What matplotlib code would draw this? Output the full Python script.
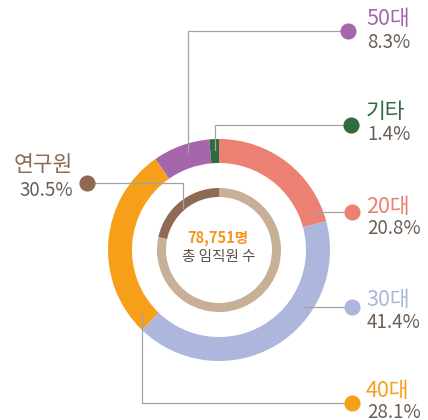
import matplotlib.pyplot as plt

plt.rcParams['font.family'] = ['Noto Sans CJK KR', 'DejaVu Sans']

# 연령대별 임직원 구성 (바깥 링, 12시 방향부터 시계방향)
age_labels = ['20대', '30대', '40대', '50대', '기타']
age_pcts = [20.8, 41.4, 28.1, 8.3, 1.4]
age_colors = ['#EC8072', '#ADB6DC', '#F6A01A', '#A666AC', '#2E6B3E']

# 연구원 비중 (안쪽 링) - 그림상 호 길이로 읽은 값
research_label = '연구원'
research_text = '30.5%'
inner_arc = [21.7, 78.3]
inner_colors = ['#8E6A55', '#C8AF98']

total_text = '78,751명'
total_caption = '총 임직원 수'

W, H = 428, 420
CX, CY = 219, 250

fig = plt.figure(figsize=(W / 100, H / 100), dpi=100)
ax = fig.add_axes([0, 0, 1, 1])


def py(y):
    # 픽셀 좌표(위에서 아래) -> 데이터 좌표
    return H - y


ax.pie(age_pcts, colors=age_colors, startangle=90, counterclock=False,
       radius=111, center=(CX, py(CY)),
       wedgeprops=dict(width=24, linewidth=0))
ax.pie(inner_arc, colors=inner_colors, startangle=90, counterclock=True,
       radius=62, center=(CX, py(CY)),
       wedgeprops=dict(width=9, linewidth=0))

ax.set_xlim(0, W)
ax.set_ylim(0, H)
ax.set_aspect('auto')
ax.axis('off')

# 가운데 텍스트
ax.text(CX - 1, py(238), total_text, color='#F7941D', fontsize=10.5,
        fontweight='bold', ha='center', va='center')
ax.text(CX, py(257), total_caption, color='#5A5048', fontsize=10.5,
        ha='center', va='center')

line_kw = dict(color='#A3A3A3', linewidth=0.9, zorder=1)
gray_txt = '#6B5E55'

# 지시선: (라벨, 퍼센트, 색, 선 좌표, 점 위치, 라벨 y, 퍼센트 y)
leaders = [
    ('50대', '8.3%', age_colors[3], [(188, 152), (188, 31), (348, 31)], (348, 31), 19, 43),
    ('기타', '1.4%', age_colors[4], [(215, 150), (215, 125), (351, 125)], (351, 125), 112, 135),
    ('20대', '20.8%', age_colors[0], [(312, 212), (352, 212)], (352, 212), 207, 229),
    ('30대', '41.4%', age_colors[1], [(303, 307), (352, 307)], (352, 307), 300, 322),
    ('40대', '28.1%', age_colors[2], [(142, 313), (142, 403), (352, 403)], (352, 403), 391, 412),
]

for lab, pct, col, pts, dot, ly, pyy in leaders:
    xs = [p[0] for p in pts]
    ys = [py(p[1]) for p in pts]
    ax.plot(xs, ys, **line_kw)
    ax.scatter([dot[0]], [py(dot[1])], s=135, color=col, zorder=3, linewidths=0)
    ax.text(366, py(ly), lab, color=col, fontsize=15.5, ha='left', va='center')
    ax.text(367, py(pyy), pct, color=gray_txt, fontsize=13.5,
            ha='left', va='center')

# 연구원
ax.plot([87, 183, 183], [py(183), py(183), py(208)], **line_kw)
ax.scatter([87], [py(183)], s=135, color=inner_colors[0], zorder=3, linewidths=0)
ax.text(73, py(165), research_label, color=inner_colors[0], fontsize=15.5,
        ha='right', va='center')
ax.text(73, py(190), research_text, color=gray_txt, fontsize=13.5,
        ha='right', va='center')

fig.savefig('out.png', dpi=100)
